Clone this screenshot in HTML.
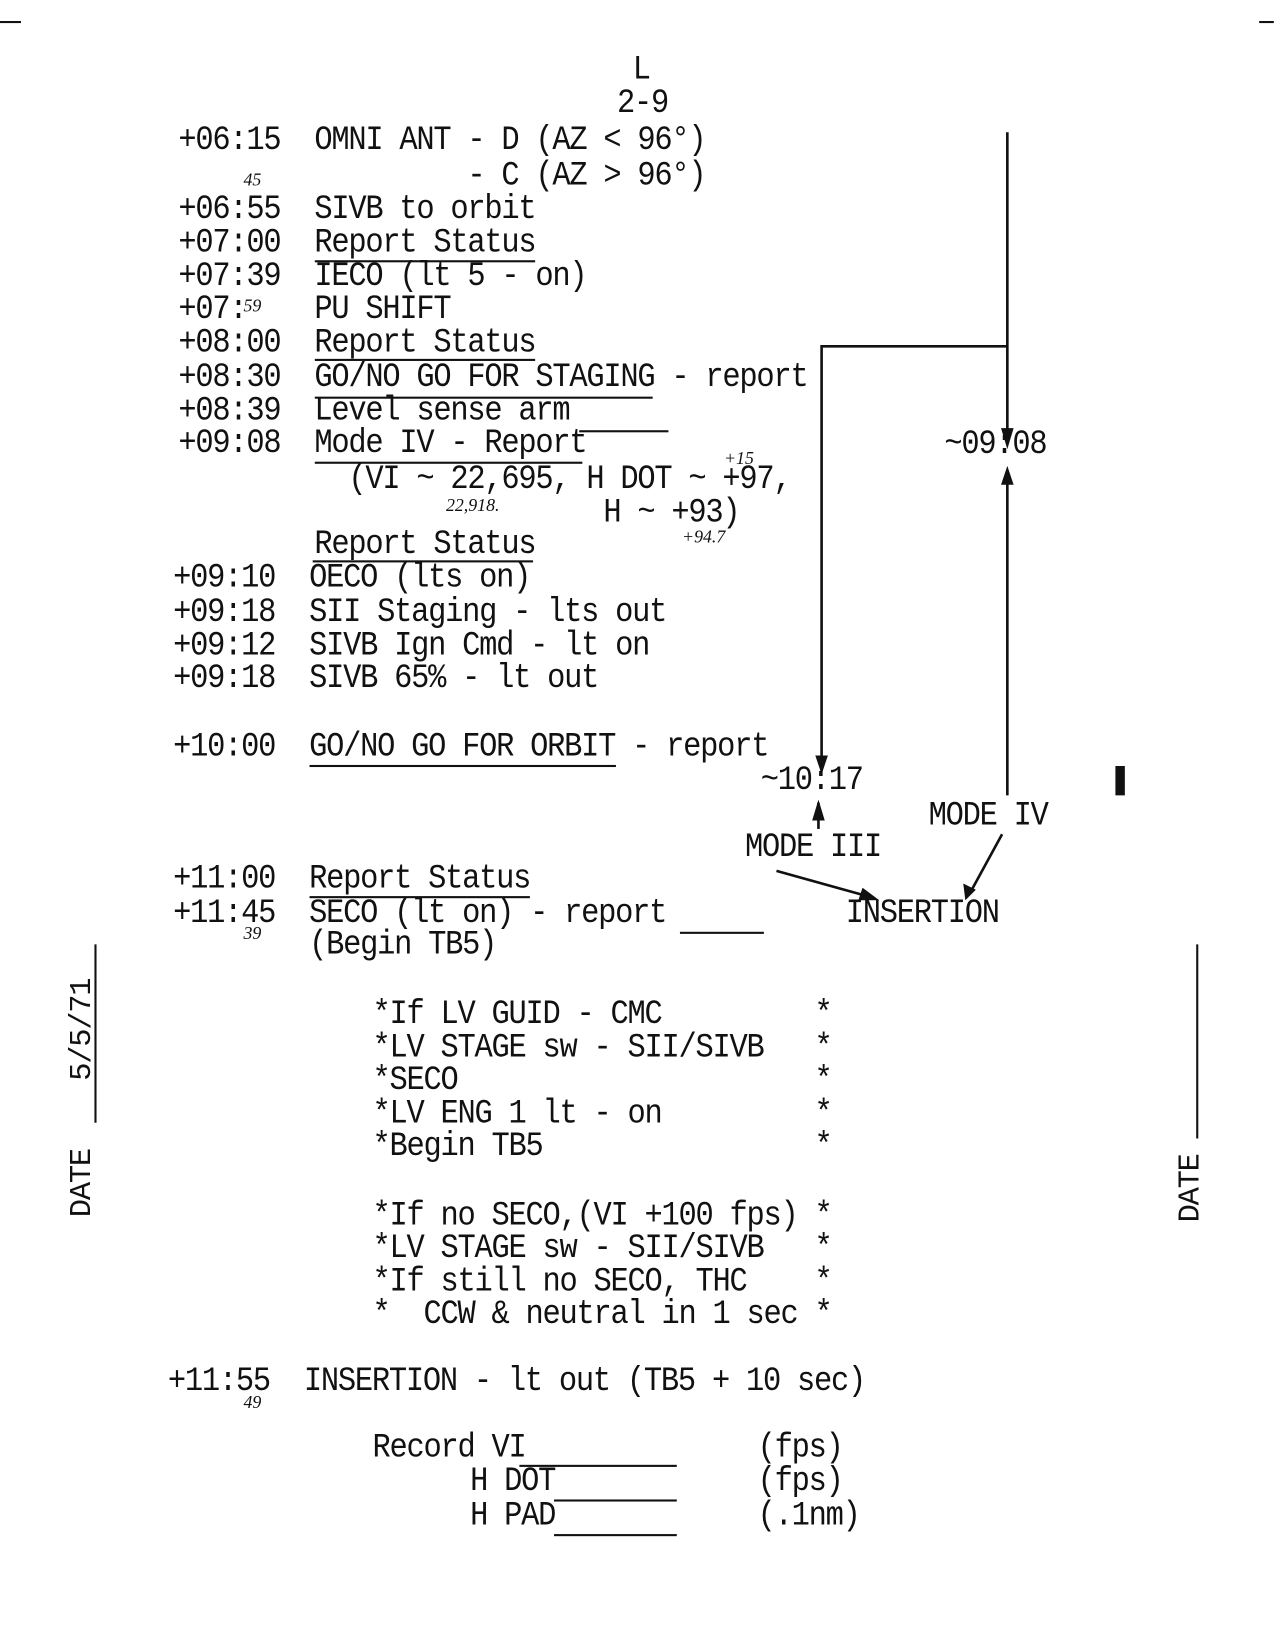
<!DOCTYPE html>
<html><head><meta charset="utf-8"><style>
body{margin:0;background:#fff;}
#w{position:relative;width:1276px;height:1648px;overflow:hidden;background:#fff;}
#p{position:absolute;left:0;top:0;width:1216px;height:1571px;transform:scale(1.0493);transform-origin:0 0;font-family:"Liberation Mono",monospace;color:#111;}
.t{position:absolute;font-size:29px;letter-spacing:-1.2px;line-height:34px;white-space:pre;transform:scaleY(1.12);transform-origin:left center;}
.h{position:absolute;font-family:"Liberation Serif",serif;font-style:italic;font-size:17px;white-space:pre;}
.u{position:absolute;height:2px;background:#111;}
</style></head><body><div id="w"><div id="p">
<div class="t" style="left:603px;top:50px">L</div>
<div class="t" style="left:588px;top:82px">2-9</div>
<div class="t" style="left:170px;top:117px">+06:15  OMNI ANT - D (AZ &lt; 96°)</div>
<div class="t" style="left:170px;top:151px">                 - C (AZ &gt; 96°)</div>
<div class="h" style="left:232px;top:162px">45</div>
<div class="t" style="left:170px;top:183px">+06:55  SIVB to orbit</div>
<div class="t" style="left:170px;top:215px">+07:00  Report Status</div>
<div class="u" style="left:300px;top:248px;width:210px"></div>
<div class="t" style="left:170px;top:247px">+07:39  IECO (lt 5 - on)</div>
<div class="t" style="left:170px;top:278px">+07:    PU SHIFT</div>
<div class="h" style="left:232px;top:282px">59</div>
<div class="t" style="left:170px;top:310px">+08:00  Report Status</div>
<div class="u" style="left:300px;top:342px;width:210px"></div>
<div class="t" style="left:170px;top:343px">+08:30  GO/NO GO FOR STAGING - report</div>
<div class="u" style="left:300px;top:378px;width:322px"></div>
<div class="t" style="left:170px;top:375px">+08:39  Level sense arm</div>
<div class="u" style="left:552px;top:410px;width:85px"></div>
<div class="t" style="left:170px;top:406px">+09:08  Mode IV - Report</div>
<div class="u" style="left:300px;top:440px;width:255px"></div>
<div class="t" style="left:170px;top:440px">          (VI ~ 22,695, H DOT ~ +97,</div>
<div class="h" style="left:425px;top:472px">22,918.</div>
<div class="h" style="left:690px;top:427px">+15</div>
<div class="t" style="left:170px;top:472px">                         H ~ +93)</div>
<div class="h" style="left:650px;top:502px">+94.7</div>
<div class="t" style="left:170px;top:502px">        Report Status</div>
<div class="u" style="left:298px;top:534px;width:210px"></div>
<div class="t" style="left:165px;top:534px">+09:10  OECO (lts on)</div>
<div class="t" style="left:165px;top:567px">+09:18  SII Staging - lts out</div>
<div class="t" style="left:165px;top:599px">+09:12  SIVB Ign Cmd - lt on</div>
<div class="t" style="left:165px;top:630px">+09:18  SIVB 65% - lt out</div>
<div class="t" style="left:165px;top:695px">+10:00  GO/NO GO FOR ORBIT - report</div>
<div class="u" style="left:295px;top:729px;width:292px"></div>
<div class="t" style="left:725px;top:727px">~10:17</div>
<div class="t" style="left:900px;top:407px">~09:08</div>
<div class="t" style="left:885px;top:761px">MODE IV</div>
<div class="t" style="left:710px;top:791px">MODE III</div>
<div class="t" style="left:806px;top:854px">INSERTION</div>
<div class="t" style="left:165px;top:821px">+11:00  Report Status</div>
<div class="u" style="left:295px;top:854px;width:210px"></div>
<div class="t" style="left:165px;top:854px">+11:45  SECO (lt on) - report</div>
<div class="u" style="left:648px;top:888px;width:80px"></div>
<div class="h" style="left:232px;top:880px">39</div>
<div class="t" style="left:165px;top:884px">        (Begin TB5)</div>
<div class="t" style="left:355px;top:950px">*If LV GUID - CMC         *</div>
<div class="t" style="left:355px;top:982px">*LV STAGE sw - SII/SIVB   *</div>
<div class="t" style="left:355px;top:1013px">*SECO                     *</div>
<div class="t" style="left:355px;top:1045px">*LV ENG 1 lt - on         *</div>
<div class="t" style="left:355px;top:1076px">*Begin TB5                *</div>
<div class="t" style="left:355px;top:1142px">*If no SECO,(VI +100 fps) *</div>
<div class="t" style="left:355px;top:1173px">*LV STAGE sw - SII/SIVB   *</div>
<div class="t" style="left:355px;top:1205px">*If still no SECO, THC    *</div>
<div class="t" style="left:355px;top:1236px">*  CCW &amp; neutral in 1 sec *</div>
<div class="t" style="left:160px;top:1300px">+11:55  INSERTION - lt out (TB5 + 10 sec)</div>
<div class="h" style="left:232px;top:1327px">49</div>
<div class="t" style="left:355px;top:1363px">Record VI</div>
<div class="u" style="left:495px;top:1396px;width:150px"></div>
<div class="t" style="left:448px;top:1395px">H DOT</div>
<div class="u" style="left:528px;top:1429px;width:117px"></div>
<div class="t" style="left:448px;top:1428px">H PAD</div>
<div class="u" style="left:528px;top:1462px;width:117px"></div>
<div class="t" style="left:722px;top:1363px">(fps)</div>
<div class="t" style="left:722px;top:1395px">(fps)</div>
<div class="t" style="left:722px;top:1428px">(.1nm)</div>
<div class="t" style="left:62px;top:1160px;transform:rotate(-90deg);transform-origin:left top">DATE</div>
<div class="t" style="left:62px;top:1030px;transform:rotate(-90deg);transform-origin:left top">5/5/71</div>
<div class="u" style="left:90px;top:900px;width:2px;height:170px"></div>
<div class="t" style="left:1118px;top:1165px;transform:rotate(-90deg);transform-origin:left top">DATE</div>
<div class="u" style="left:1140px;top:900px;width:2px;height:185px"></div>
<div class="u" style="left:1063px;top:730px;width:9px;height:28px"></div>
<div class="u" style="left:0;top:20px;width:20px"></div>
<div class="u" style="left:1200px;top:20px;width:14px"></div>
<svg style="position:absolute;left:0;top:0" width="1216" height="1571">
<g stroke="#111" stroke-width="2.5" fill="none">
<path d="M960 126 V410"/><path d="M960 330 H783 V735"/>
<path d="M960 460 V758"/><path d="M780 790 V765"/>
<path d="M740 830 L830 855"/><path d="M955 795 L925 850"/>
</g>
<g fill="#111">
<path d="M954 408 L966 408 L960 428Z"/><path d="M777 720 L789 720 L783 738Z"/>
<path d="M954 462 L966 462 L960 444Z"/><path d="M774 782 L786 782 L780 762Z"/>
<path d="M822 846 L838 858 L818 858Z"/><path d="M918 842 L930 848 L920 858Z"/>
</g></svg>
</div></div></body></html>
